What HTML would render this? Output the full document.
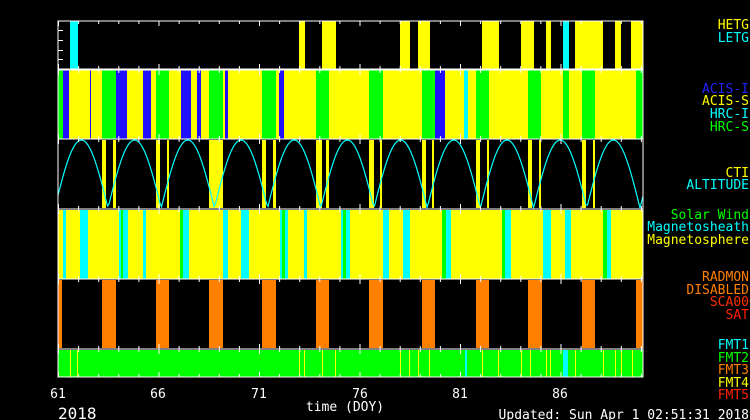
<!DOCTYPE html>
<html><head><meta charset="utf-8"><style>
html,body{margin:0;padding:0;background:#000;}
svg{display:block}
text{font-family:"DejaVu Sans Mono","Liberation Mono",monospace;}
</style></head><body>
<svg id="s" width="750" height="420" xmlns="http://www.w3.org/2000/svg">
<rect width="750" height="420" fill="#000"/>
<g id="g"></g>
<g font-size="13" text-anchor="end">
<text x="749" y="29" fill="#ffff00">HETG</text>
<text x="749" y="42" fill="#00ffff">LETG</text>
<text x="749" y="93" fill="#2020ff">ACIS-I</text>
<text x="749" y="105" fill="#ffff00">ACIS-S</text>
<text x="749" y="118" fill="#00ffff">HRC-I</text>
<text x="749" y="131" fill="#00ff00">HRC-S</text>
<text x="749" y="177" fill="#ffff00">CTI</text>
<text x="749" y="189" fill="#00ffff">ALTITUDE</text>
<text x="749" y="219" fill="#00ff00">Solar Wind</text>
<text x="749" y="231" fill="#00ffff">Magnetosheath</text>
<text x="749" y="244" fill="#ffff00">Magnetosphere</text>
<text x="749" y="281" fill="#ff8000">RADMON</text>
<text x="749" y="294" fill="#ff8000">DISABLED</text>
<text x="749" y="306" fill="#ff3000">SCA00</text>
<text x="749" y="319" fill="#ff2000">SAT</text>
<text x="749" y="349" fill="#00ffff">FMT1</text>
<text x="749" y="362" fill="#00ff00">FMT2</text>
<text x="749" y="374" fill="#ff8000">FMT3</text>
<text x="749" y="387" fill="#ffff00">FMT4</text>
<text x="749" y="399" fill="#ff2000">FMT5</text>
</g>
<g font-size="13" fill="#fff" text-anchor="middle">
<text x="58" y="398">61</text><text x="158" y="398">66</text><text x="259" y="398">71</text>
<text x="360" y="398">76</text><text x="460" y="398">81</text><text x="560" y="398">86</text>
<text x="345" y="411">time (DOY)</text>
</g>
<text x="58" y="419" font-size="16" fill="#fff">2018</text>
<text x="749" y="419" font-size="13" fill="#fff" text-anchor="end">Updated: Sun Apr  1 02:51:31 2018</text>
</svg>
<script>
const g=document.getElementById('g');const NS='http://www.w3.org/2000/svg';
function r(x1,x2,y1,y2,c){const e=document.createElementNS(NS,'rect');e.setAttribute('x',x1);e.setAttribute('y',y1);e.setAttribute('width',x2-x1);e.setAttribute('height',y2-y1);e.setAttribute('fill',c);g.appendChild(e);}
const L=58,R=643,Y='#ffff00',C='#00ffff',G='#00ff00',B='#2010ff',O='#ff7f00';
// panel1
r(L,R,21,69,'#000');
[[70,78,C],[299,305,Y],[322,336,Y],[400,410,Y],[418,430,Y],[482,499,Y],[521,534,Y],[546,551,Y],[563,569,C],[575,603,Y],[615,621,Y],[631,643,Y]].forEach(a=>r(a[0],a[1],21,69,a[2]));
// panel2
r(L,R,70,139,Y);
[[58,63,G],[63,69,B],[90,91,B],[102,116,G],[116,127,B],[143,151,B],[156,169,G],[181,191,B],[197,201,B],[209,223,G],[225,228,B],[262,276,G],[279,284,B],[316,329,G],[369,383,G],[422,435,G],[435,445,B],[464,468,C],[476,489,G],[528,541,G],[563,569,G],[582,595,G],[636,643,G]].forEach(a=>r(a[0],a[1],70,139,a[2]));
// panel3
r(L,R,140,208,'#000');
[[102,106],[113,116],[156,160],[167,169],[209,223],[262,266],[273,276],[316,322],[326,329],[369,374],[380,382],[422,426],[432,434],[476,480],[487,489],[528,532],[539,541],[582,586],[593,595]].forEach(a=>r(a[0],a[1],140,208,Y));
let pts='';for(let x=L;x<=R;x+=1.5){const y=208-68*Math.abs(Math.sin(Math.PI*(x-108)/53.2));pts+=x+','+y.toFixed(1)+' ';}
const pl=document.createElementNS(NS,'polyline');pl.setAttribute('points',pts);pl.setAttribute('fill','none');pl.setAttribute('stroke',C);pl.setAttribute('stroke-width','1.2');g.appendChild(pl);
// panel4
r(L,R,210,279,Y);
[[63,66,C],[80,88,C],[119,121,C],[121,123,G],[123,128,C],[143,146,C],[180,183,G],[183,189,C],[223,228,C],[241,249,C],[280,282,C],[282,285,G],[285,288,C],[304,307,C],[341,343,C],[343,346,G],[346,350,C],[383,389,C],[403,410,C],[442,446,G],[446,451,C],[502,505,G],[505,511,C],[543,551,C],[565,571,C],[603,607,G],[607,611,C]].forEach(a=>r(a[0],a[1],210,279,a[2]));
// panel5
r(L,R,280,348,'#000');
[[58,62],[102,116],[156,169],[209,223],[262,276],[316,329],[369,383],[422,435],[476,489],[528,542],[582,595],[636,643]].forEach(a=>r(a[0],a[1],280,348,O));
// panel6
r(L,R,350,377,G);
[70,77,299,304,322,335,400,409,418,429,482,498,521,530,546,550,575,603,615,621,632].forEach(x=>r(x,x+1,350,377,Y));
r(465,467,350,377,C);r(563,568,350,377,C);
// borders
[[21,69],[70,139],[139,209],[209,279],[279,349],[349,377]].forEach(p=>{
 const e=document.createElementNS(NS,'rect');e.setAttribute('x',L);e.setAttribute('y',p[0]);e.setAttribute('width',R-L);e.setAttribute('height',p[1]-p[0]);e.setAttribute('fill','none');e.setAttribute('stroke','#fff');e.setAttribute('stroke-width','1');g.appendChild(e);
 for(let d=0;d<=29;d++){const x=L+d*20.1;const h=d%5==0?5:3;r(x,x+1,p[0],p[0]+h,'#fff');r(x,x+1,p[1]-h,p[1],'#fff');}
});
[30,40,50,59].forEach(y=>r(L,L+5,y,y+1,'#fff'));
</script>
</body></html>
